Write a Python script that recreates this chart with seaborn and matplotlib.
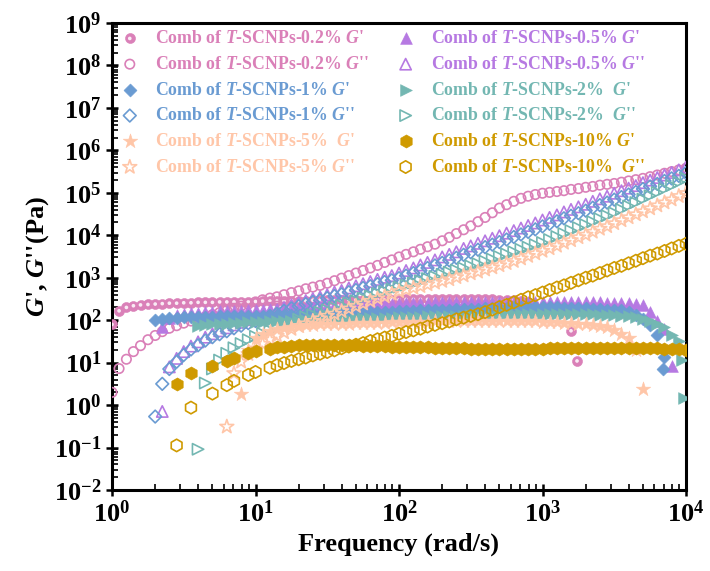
import numpy as np
import pandas as pd
import matplotlib
matplotlib.use("Agg")
import matplotlib.pyplot as plt
import seaborn as sns
from matplotlib.ticker import LogLocator, FuncFormatter, NullFormatter

N = np.nan

# Angular frequency grid (rad/s) shared by the series
freq = [1.00, 1.12, 1.26, 1.41, 1.58, 1.78, 2.00, 2.24, 2.51, 2.82,
        3.16, 3.55, 3.98, 4.47, 5.01, 5.62, 6.31, 7.08, 7.94, 8.91,
        10.0, 11.2, 12.6, 14.1, 15.8, 17.8, 20.0, 22.4, 25.1, 28.2,
        31.6, 35.5, 39.8, 44.7, 50.1, 56.2, 63.1, 70.8, 79.4, 89.1,
        100, 112, 126, 141, 158, 178, 200, 224, 251, 282,
        316, 355, 398, 447, 501, 562, 631, 708, 794, 891,
        1000, 1120, 1260, 1410, 1580, 1780, 2000, 2240, 2510, 2820,
        3160, 3550, 3980, 4470, 5010, 5620, 6310, 7080, 7940, 8910, 10000]

# log10(modulus / Pa); each list starts at a grid index
pink_Gp_start = 0
pink_Gp_log = [1.90, 2.22, 2.30, 2.34, 2.36, 2.37, 2.38, 2.39, 2.40, 2.40,
               2.41, 2.41, 2.42, 2.42, 2.42, 2.43, 2.43, 2.43, 2.44, 2.44,
               2.44, 2.45, 2.45, 2.45, 2.46, 2.46, 2.46, 2.46, 2.47, 2.47,
               2.47, 2.47, 2.47, 2.48, 2.48, 2.48, 2.48, 2.48, 2.48, 2.48,
               2.48, 2.49, 2.49, 2.49, 2.49, 2.49, 2.49, 2.49, 2.49, 2.49,
               2.49, 2.49, 2.49, 2.49, 2.48, 2.48, 2.47, 2.45, 2.43]
pink_Gp_extra_f = [1580, 1740]
pink_Gp_extra_log = [1.75, 1.04]

pink_Gpp_start = 0
pink_Gpp_log = [0.30, 0.86, 1.08, 1.26, 1.40, 1.54, 1.64, 1.73, 1.81, 1.87,
                1.93, 1.98, 2.03, 2.08, 2.13, 2.18, 2.23, 2.28, 2.33, 2.38,
                2.43, 2.48, 2.52, 2.55, 2.60, 2.65, 2.69, 2.74, 2.78, 2.82,
                2.87, 2.93, 2.99, 3.05, 3.11, 3.17, 3.23, 3.29, 3.36, 3.42,
                3.49, 3.55, 3.61, 3.67, 3.73, 3.79, 3.87, 3.95, 4.04, 4.13,
                4.22, 4.32, 4.42, 4.53, 4.64, 4.72, 4.80, 4.87, 4.92, 4.96,
                4.99, 5.01, 5.03, 5.05, 5.08, 5.10, 5.13, 5.15, 5.18, 5.20,
                5.22, 5.25, 5.28, 5.31, 5.34, 5.38, 5.42, 5.46, 5.50, 5.54, 5.58]

purple_Gp_start = 7
purple_Gp_log = [1.84, 2.04, 2.12, 2.15, 2.17, 2.18, 2.19, 2.20, 2.21, 2.21,
                 2.22, 2.22, 2.23, 2.24, 2.25, 2.26, 2.27, 2.28, 2.29, 2.30,
                 2.31, 2.32, 2.32, 2.33, 2.34, 2.35, 2.35, 2.36, 2.37, 2.37,
                 2.38, 2.38, 2.39, 2.40, 2.40, 2.41, 2.41, 2.41, 2.42, 2.42,
                 2.42, 2.43, 2.43, 2.43, 2.43, 2.43, 2.43, 2.43, 2.43, 2.43,
                 2.43, 2.43, 2.43, 2.43, 2.43, 2.43, 2.43, 2.43, 2.42, 2.42,
                 2.42, 2.42, 2.41, 2.41, 2.41, 2.40, 2.39, 2.36, 2.20, 1.97,
                 1.79, 0.92]

purple_Gpp_start = 7
purple_Gpp_log = [-0.15, 0.90, 1.10, 1.26, 1.39, 1.49, 1.60, 1.68, 1.75, 1.82,
                  1.89, 1.95, 2.01, 2.06, 2.12, 2.18, 2.23, 2.30, 2.36, 2.41,
                  2.46, 2.51, 2.55, 2.60, 2.66, 2.70, 2.76, 2.81, 2.86, 2.91,
                  2.96, 3.01, 3.05, 3.11, 3.17, 3.23, 3.30, 3.36, 3.42, 3.49,
                  3.55, 3.61, 3.69, 3.75, 3.81, 3.87, 3.93, 3.99, 4.05, 4.11,
                  4.17, 4.23, 4.29, 4.36, 4.42, 4.48, 4.55, 4.61, 4.67, 4.73,
                  4.80, 4.86, 4.92, 4.99, 5.05, 5.11, 5.17, 5.24, 5.30, 5.36,
                  5.42, 5.48, 5.54, 5.61]

blue_Gp_start = 6
blue_Gp_log = [2.00, 2.03, 2.05, 2.06, 2.07, 2.07, 2.08, 2.08, 2.08, 2.09,
               2.09, 2.09, 2.10, 2.10, 2.10, 2.11, 2.11, 2.12, 2.12, 2.13,
               2.13, 2.14, 2.15, 2.15, 2.16, 2.16, 2.17, 2.17, 2.18, 2.18,
               2.19, 2.19, 2.20, 2.20, 2.21, 2.22, 2.22, 2.23, 2.24, 2.24,
               2.25, 2.25, 2.26, 2.26, 2.27, 2.27, 2.28, 2.28, 2.29, 2.29,
               2.30, 2.30, 2.31, 2.31, 2.31, 2.30, 2.30, 2.29, 2.29, 2.28,
               2.28, 2.27, 2.26, 2.25, 2.25, 2.24, 2.19, 2.12, 2.03, 1.88,
               1.65, 1.13]
blue_Gp_extra_f = [6920]
blue_Gp_extra_log = [0.85]

blue_Gpp_start = 6
blue_Gpp_log = [-0.27, 0.50, 0.85, 1.02, 1.18, 1.31, 1.41, 1.52, 1.60, 1.67,
                1.74, 1.81, 1.87, 1.93, 1.98, 2.04, 2.10, 2.15, 2.22, 2.28,
                2.33, 2.38, 2.43, 2.47, 2.52, 2.57, 2.61, 2.66, 2.71, 2.76,
                2.80, 2.85, 2.90, 2.94, 2.99, 3.05, 3.11, 3.17, 3.23, 3.29,
                3.35, 3.41, 3.47, 3.54, 3.60, 3.66, 3.72, 3.78, 3.84, 3.90,
                3.96, 4.02, 4.08, 4.14, 4.21, 4.27, 4.33, 4.40, 4.46, 4.52,
                4.58, 4.65, 4.71, 4.77, 4.84, 4.90, 4.96, 5.02, 5.09, 5.15,
                5.21, 5.28, 5.34, 5.40, 5.47]

teal_Gp_start = 12
teal_Gp_log = [1.87, 1.89, 1.90, 1.91, 1.92, 1.93, 1.94, 1.95, 1.96, 1.96,
               1.97, 1.97, 1.98, 1.98, 1.99, 2.00, 2.00, 2.01, 2.02, 2.02,
               2.03, 2.03, 2.04, 2.04, 2.05, 2.05, 2.06, 2.06, 2.07, 2.07,
               2.08, 2.08, 2.09, 2.09, 2.10, 2.10, 2.11, 2.11, 2.12, 2.12,
               2.13, 2.13, 2.14, 2.14, 2.14, 2.15, 2.15, 2.15, 2.15, 2.15,
               2.15, 2.15, 2.15, 2.14, 2.14, 2.14, 2.13, 2.13, 2.12, 2.11,
               2.10, 2.07, 2.03, 1.97, 1.91, 1.84, 1.66, 1.50]
teal_Gp_extra_f = [9330, 9680]
teal_Gp_extra_log = [1.06, 0.17]

teal_Gpp_start = 12
teal_Gpp_log = [-1.04, 0.52, 0.85, 1.06, 1.22, 1.35, 1.45, 1.54, 1.62, 1.69,
                1.76, 1.83, 1.90, 1.96, 2.02, 2.08, 2.13, 2.19, 2.24, 2.30,
                2.35, 2.41, 2.46, 2.52, 2.57, 2.63, 2.68, 2.73, 2.78, 2.83,
                2.88, 2.93, 2.98, 3.03, 3.08, 3.13, 3.18, 3.23, 3.28, 3.33,
                3.39, 3.44, 3.50, 3.56, 3.61, 3.67, 3.72, 3.78, 3.83, 3.90,
                3.97, 4.04, 4.11, 4.18, 4.25, 4.32, 4.39, 4.46, 4.53, 4.61,
                4.69, 4.77, 4.85, 4.93, 5.01, 5.09, 5.17, 5.25, 5.34]

peach_Gp_start = 18
peach_Gp_log = [0.26, 1.30, 1.58, 1.68, 1.74, 1.79, 1.82, 1.85, 1.87, 1.88,
                1.89, 1.90, 1.91, 1.91, 1.92, 1.92, 1.93, 1.93, 1.94, 1.94,
                1.94, 1.95, 1.95, 1.95, 1.96, 1.96, 1.96, 1.97, 1.97, 1.97,
                1.97, 1.98, 1.98, 1.98, 1.98, 1.98, 1.98, 1.98, 1.98, 1.97,
                1.97, 1.97, 1.96, 1.96, 1.95, 1.94, 1.93, 1.92, 1.90, 1.88,
                1.86, 1.84, 1.76, 1.68, 1.58, 1.30, 0.38]

peach_Gpp_start = 16
peach_Gpp_log = [-0.51, 0.75, 1.02, 1.20, 1.33, 1.44, 1.54, 1.63, 1.71, 1.79,
                 1.86, 1.92, 1.98, 2.04, 2.10, 2.15, 2.21, 2.27, 2.33, 2.39,
                 2.45, 2.51, 2.56, 2.62, 2.68, 2.72, 2.76, 2.80, 2.84, 2.88,
                 2.92, 2.96, 3.01, 3.05, 3.10, 3.14, 3.19, 3.24, 3.29, 3.34,
                 3.39, 3.45, 3.51, 3.57, 3.63, 3.69, 3.75, 3.82, 3.88, 3.95,
                 4.01, 4.08, 4.15, 4.21, 4.28, 4.35, 4.42, 4.49, 4.56, 4.63,
                 4.70, 4.77, 4.84, 4.92, 4.99]

gold_Gp_start = 9
gold_Gp_log = [0.49, N, 0.75, N, N, 0.93, N, 1.05, 1.12, N,
               1.22, 1.27, N, 1.33, 1.36, 1.38, 1.40, 1.41, 1.42, 1.42,
               1.42, 1.42, 1.42, 1.41, 1.41, 1.41, 1.40, 1.40, 1.39, 1.39,
               1.38, 1.38, 1.37, 1.37, 1.36, 1.36, 1.35, 1.35, 1.34, 1.34,
               1.34, 1.33, 1.33, 1.33, 1.33, 1.33, 1.33, 1.33, 1.33, 1.33,
               1.33, 1.33, 1.34, 1.34, 1.34, 1.34, 1.34, 1.34, 1.35, 1.35,
               1.35, 1.35, 1.35, 1.35, 1.35, 1.35, 1.35, 1.34, 1.33, 1.32,
               1.31, 1.30]

gold_Gpp_start = 9
gold_Gpp_log = [-0.95, N, -0.06, N, N, 0.27, N, 0.47, 0.57, N,
                0.71, 0.78, N, 0.88, 0.94, 0.99, 1.04, 1.08, 1.12, 1.17,
                1.21, 1.25, 1.29, 1.34, 1.38, 1.42, 1.46, 1.51, 1.55, 1.59,
                1.63, 1.68, 1.72, 1.76, 1.80, 1.85, 1.89, 1.93, 1.97, 2.02,
                2.06, 2.10, 2.14, 2.19, 2.25, 2.31, 2.36, 2.42, 2.48, 2.54,
                2.59, 2.65, 2.71, 2.77, 2.82, 2.88, 2.94, 3.00, 3.05, 3.11,
                3.17, 3.23, 3.28, 3.34, 3.40, 3.46, 3.52, 3.57, 3.63, 3.69,
                3.75, 3.80]

labels = {
    "pink_Gp": "Comb of $\\mathit{T}$-SCNPs-0.2% $\\mathit{G}$'",
    "pink_Gpp": "Comb of $\\mathit{T}$-SCNPs-0.2% $\\mathit{G}$''",
    "purple_Gp": "Comb of $\\mathit{T}$-SCNPs-0.5% $\\mathit{G}$'",
    "purple_Gpp": "Comb of $\\mathit{T}$-SCNPs-0.5% $\\mathit{G}$''",
    "blue_Gp": "Comb of $\\mathit{T}$-SCNPs-1% $\\mathit{G}$'",
    "blue_Gpp": "Comb of $\\mathit{T}$-SCNPs-1% $\\mathit{G}$''",
    "teal_Gp": "Comb of $\\mathit{T}$-SCNPs-2%  $\\mathit{G}$'",
    "teal_Gpp": "Comb of $\\mathit{T}$-SCNPs-2%  $\\mathit{G}$''",
    "peach_Gp": "Comb of $\\mathit{T}$-SCNPs-5%  $\\mathit{G}$'",
    "peach_Gpp": "Comb of $\\mathit{T}$-SCNPs-5% $\\mathit{G}$''",
    "gold_Gp": "Comb of $\\mathit{T}$-SCNPs-10% $\\mathit{G}$'",
    "gold_Gpp": "Comb of $\\mathit{T}$-SCNPs-10%  $\\mathit{G}$''",
}

colors = {"pink": "#DA80B8", "purple": "#B679E2", "blue": "#6A9BD2",
          "teal": "#73B7B2", "peach": "#FFC6A8", "gold": "#CF9A00"}

# ---------------------------------------------------------------- style
sns.set_theme(style="ticks")
plt.rcParams.update({
    "font.family": ["Liberation Serif", "DejaVu Serif"],
    "font.weight": "bold",
    "axes.labelweight": "bold",
    "mathtext.fontset": "custom",
    "mathtext.rm": "Liberation Serif:bold",
    "mathtext.it": "Liberation Serif:italic:bold",
    "mathtext.bf": "Liberation Serif:bold",
    "axes.linewidth": 2.0,
    "axes.edgecolor": "black",
    "text.color": "black",
    "axes.labelcolor": "black",
    "xtick.color": "black",
    "ytick.color": "black",
})

fig = plt.figure(figsize=(7.1, 5.71), dpi=100)
ax = fig.add_axes([112 / 710, 1 - 490 / 571, (686 - 112) / 710, (490 - 23) / 571])


def on_grid(start, logs):
    arr = np.full(len(freq), np.nan)
    arr[start:start + len(logs)] = logs
    return arr


def frame(start, logs, extra_f=(), extra_log=()):
    f = list(freq) + list(extra_f)
    lg = list(on_grid(start, logs)) + list(extra_log)
    df = pd.DataFrame({"freq": f, "logG": lg}).dropna()
    df["G"] = 10 ** df["logG"]
    return df


series = [
    # key, colour, marker, filled, size, start, logs, extras
    ("pink_Gp", "pink", "o", True, 52, pink_Gp_start, pink_Gp_log, pink_Gp_extra_f, pink_Gp_extra_log),
    ("pink_Gpp", "pink", "o", False, 46, pink_Gpp_start, pink_Gpp_log, (), ()),
    ("purple_Gp", "purple", "^", True, 72, purple_Gp_start, purple_Gp_log, (), ()),
    ("purple_Gpp", "purple", "^", False, 66, purple_Gpp_start, purple_Gpp_log, (), ()),
    ("blue_Gp", "blue", "D", True, 44, blue_Gp_start, blue_Gp_log, blue_Gp_extra_f, blue_Gp_extra_log),
    ("blue_Gpp", "blue", "D", False, 42, blue_Gpp_start, blue_Gpp_log, (), ()),
    ("teal_Gp", "teal", ">", True, 72, teal_Gp_start, teal_Gp_log, teal_Gp_extra_f, teal_Gp_extra_log),
    ("teal_Gpp", "teal", ">", False, 66, teal_Gpp_start, teal_Gpp_log, (), ()),
    ("peach_Gp", "peach", "*", True, 120, peach_Gp_start, peach_Gp_log, (), ()),
    ("peach_Gpp", "peach", "*", False, 110, peach_Gpp_start, peach_Gpp_log, (), ()),
    ("gold_Gp", "gold", "h", True, 90, gold_Gp_start, gold_Gp_log, (), ()),
    ("gold_Gpp", "gold", "h", False, 80, gold_Gpp_start, gold_Gpp_log, (), ()),
]

handles = {}
for i, (key, cname, mk, filled, s, start, logs, ef, el) in enumerate(series):
    df = frame(start, logs, ef, el)
    c = colors[cname]
    n_before = len(ax.collections)
    sns.scatterplot(data=df, x="freq", y="G", ax=ax, marker=mk, s=s,
                    color=c, edgecolor=c,
                    facecolor=(c if filled else "none"),
                    linewidth=(0.4 if filled else 1.2),
                    label=labels[key], zorder=3 + i, legend=False)
    coll = ax.collections[n_before]
    if key == "pink_Gp":
        sns.scatterplot(data=df, x="freq", y="G", ax=ax, marker="o", s=7,
                        color="white", edgecolor="none", alpha=0.85,
                        zorder=3 + i, legend=False)
        hl = ax.collections[-1]
        handles[key] = (coll, hl)
    else:
        handles[key] = coll

ax.set_xscale("log")
ax.set_yscale("log")
ax.set_xlim(1, 1e4)
ax.set_ylim(1e-2, 1e9)


def dec_fmt(v, pos):
    e = int(np.round(np.log10(v)))
    return r"$\mathbf{10^{%d}}$" % e


for axis in (ax.xaxis, ax.yaxis):
    axis.set_major_locator(LogLocator(base=10, subs=(1.0,), numticks=30))
    axis.set_minor_locator(LogLocator(base=10, subs=np.arange(2, 10), numticks=300))
    axis.set_major_formatter(FuncFormatter(dec_fmt))
    axis.set_minor_formatter(NullFormatter())

ax.tick_params(which="major", direction="inout", length=9, width=1.8,
               labelsize=19, pad=3, top=False, right=False, colors="black")
ax.tick_params(which="minor", direction="in", length=4.5, width=1.2,
               top=False, right=False)
for sp in ax.spines.values():
    sp.set_linewidth(2.2)
    sp.set_color("black")

ax.set_xlabel("Frequency (rad/s)", fontsize=19, fontweight="bold", labelpad=4)
ax.set_ylabel("$\\mathit{G}$', $\\mathit{G}$''(Pa)", fontsize=19,
              fontweight="bold", labelpad=2)

order = ["pink_Gp", "pink_Gpp", "blue_Gp", "blue_Gpp", "peach_Gp", "peach_Gpp",
         "purple_Gp", "purple_Gpp", "teal_Gp", "teal_Gpp", "gold_Gp", "gold_Gpp"]
leg = ax.legend([handles[k] for k in order], [labels[k] for k in order],
                ncol=2, loc="upper left", bbox_to_anchor=(0.0, 1.0),
                frameon=False, fontsize=12.8, handlelength=1.2,
                handletextpad=0.8, columnspacing=1.5, labelspacing=0.49,
                borderaxespad=0.1, borderpad=0.3)
color_of = {k: colors[c] for k, c, *_ in series}
for txt, k in zip(leg.get_texts(), order):
    txt.set_color(color_of[k])
    txt.set_fontweight("bold")

fig.savefig("out.png", dpi=100)
